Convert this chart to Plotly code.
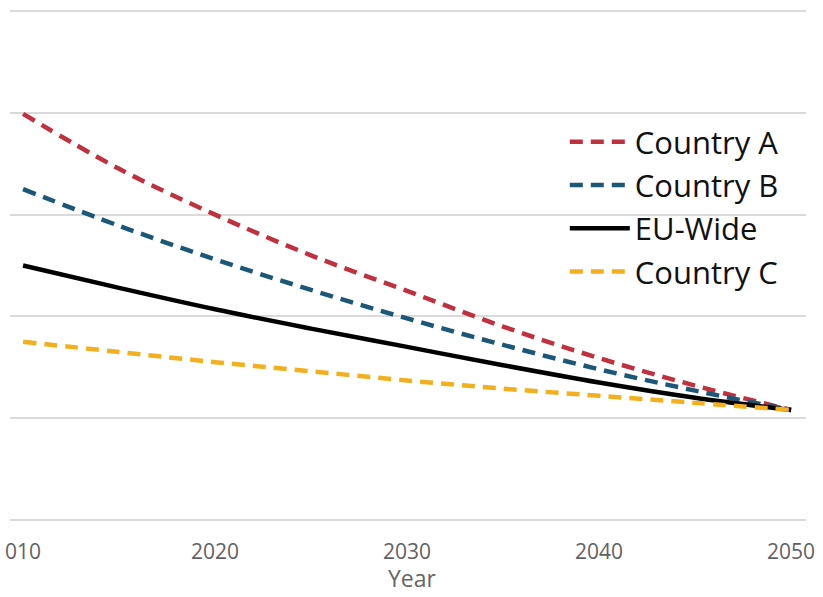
import plotly.graph_objects as go

years = [2010, 2015, 2020, 2025, 2030, 2035, 2040, 2045, 2050]
country_a = [3.99, 3.45, 3.00, 2.60, 2.25, 1.90, 1.59, 1.32, 1.08]
country_b = [3.25, 2.89, 2.56, 2.26, 1.98, 1.72, 1.48, 1.27, 1.08]
eu_wide = [2.50, 2.28, 2.07, 1.88, 1.70, 1.52, 1.35, 1.20, 1.08]
country_c = [1.75, 1.65, 1.55, 1.46, 1.37, 1.29, 1.22, 1.15, 1.08]

tick_vals = [2010, 2020, 2030, 2040, 2050]
tick_text = ["010", "2020", "2030", "2040", "2050"]
x_title = "Year"

series = [
    ("Country A", country_a, "#C0313F", "13px,8px", 4.5),
    ("Country B", country_b, "#1D5777", "13px,8px", 4.5),
    ("EU-Wide", eu_wide, "#000000", "solid", 4.5),
    ("Country C", country_c, "#F2B01E", "13px,8px", 4.5),
]

fig = go.Figure()
for name, vals, color, dash, w in series:
    fig.add_trace(go.Scatter(
        x=years, y=vals, name=name, mode="lines",
        line=dict(color=color, dash=dash, width=w, shape="spline"),
    ))

fig.update_layout(
    width=823, height=597,
    margin=dict(l=10, r=17, t=6, b=72),
    paper_bgcolor="white", plot_bgcolor="white",
    font=dict(family="Open Sans", color="#666666"),
    showlegend=True,
    legend=dict(
        x=0.697, y=0.79, xanchor="left", yanchor="top",
        bgcolor="rgba(255,255,255,0)",
        font=dict(size=31, color="#111111", family="Open Sans"),
        itemwidth=60,
        tracegroupgap=0,
    ),
    shapes=[dict(type="rect", xref="paper", yref="paper",
                 x0=0.782, x1=0.995, y0=0.44, y1=0.81,
                 fillcolor="white", line=dict(width=0), layer="between")],
    annotations=[dict(text=x_title, xref="paper", yref="paper",
                      x=0.506, y=-0.136, xanchor="center", yanchor="bottom",
                      showarrow=False,
                      font=dict(size=23, color="#666666", family="Open Sans"))],
)
fig.update_xaxes(
    range=[2009.32, 2050.78],
    tickvals=tick_vals, ticktext=tick_text,
    showgrid=False, zeroline=False, showline=False,
    ticks="", ticklabelstandoff=12,
    tickfont=dict(size=21, color="#626262"),
)
fig.update_yaxes(
    range=[-0.05, 5.05],
    tickvals=[0, 1, 2, 3, 4, 5],
    showticklabels=False,
    showgrid=True, gridcolor="#DADADA", gridwidth=2,
    zeroline=False, showline=False,
)

fig.write_html("out.html")
